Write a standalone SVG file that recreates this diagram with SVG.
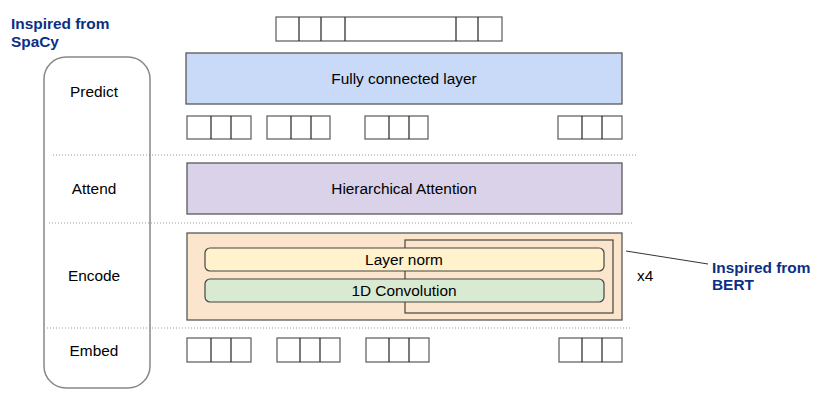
<svg xmlns="http://www.w3.org/2000/svg" width="838" height="410" viewBox="0 0 838 410">
<style>
text{font-family:"Liberation Sans",Arial,sans-serif;font-size:15.4px;fill:#000}
.c{text-anchor:middle}
.note{font-weight:bold;fill:#0b2f85}
.box{stroke:#595959;stroke-width:1.3}
.tok{fill:#fff;stroke:#666;stroke-width:1.3}
.div{stroke:#222;stroke-width:1.2}
.dot{stroke:#999;stroke-width:1;stroke-dasharray:1 2;fill:none}
</style>
<g id="notes">
<text class="note" x="11" y="29">Inspired from</text>
<text class="note" x="11" y="47">SpaCy</text>
<text class="note" x="712" y="273">Inspired from</text>
<text class="note" x="712" y="290">BERT</text>
</g>
<g id="stages">
<rect x="44" y="57" width="106" height="331" rx="22" fill="#fff" stroke="#888" stroke-width="1.5"/>
<text class="c" x="94" y="97">Predict</text>
<text class="c" x="94" y="194">Attend</text>
<text class="c" x="94" y="281">Encode</text>
<text class="c" x="94" y="356">Embed</text>
</g>
<g id="separators">
<line class="dot" x1="53" y1="155" x2="637" y2="155"/>
<line class="dot" x1="49" y1="223" x2="634" y2="223"/>
<line class="dot" x1="47" y1="328" x2="632" y2="328"/>
</g>
<g id="output-tokens">
<rect class="tok" x="276" y="17" width="226" height="24"/>
<path class="div" d="M299 17V41M321 17V41M345 17V41M456 17V41M478 17V41"/>
</g>
<g id="fc">
<rect class="box" x="186" y="53" width="436" height="51" fill="#c9daf8"/>
<text class="c" x="404" y="84">Fully connected layer</text>
</g>
<g id="predict-tokens">
<rect class="tok" x="187" y="116" width="64" height="23"/>
<rect class="tok" x="267" y="116" width="63" height="23"/>
<rect class="tok" x="365" y="116" width="63" height="23"/>
<rect class="tok" x="558" y="116" width="64" height="23"/>
<path class="div" d="M211 116V139M231 116V139M291 116V139M311 116V139M389 116V139M409 116V139M582 116V139M602 116V139"/>
</g>
<g id="attention">
<rect class="box" x="187" y="163" width="435" height="51" fill="#d9d2e9"/>
<text class="c" x="404" y="194">Hierarchical Attention</text>
</g>
<g id="encoder">
<rect class="box" x="187" y="233" width="435" height="87" fill="#fce5cd"/>
<rect x="405" y="240" width="208" height="73" fill="none" stroke="#444" stroke-width="1.2"/>
</g>
<g id="layer-norm">
<rect x="205" y="248" width="399" height="23" rx="5" fill="#fff2cc" stroke="#444" stroke-width="1.2"/>
<text class="c" x="404" y="265">Layer norm</text>
</g>
<g id="conv">
<rect x="205" y="279" width="399" height="23" rx="5" fill="#d9ead3" stroke="#444" stroke-width="1.2"/>
<text class="c" x="404" y="296">1D Convolution</text>
</g>
<g id="repeat">
<text x="637" y="281">x4</text>
</g>
<g id="connectors">
<line x1="626" y1="251" x2="708" y2="264" stroke="#333" stroke-width="1"/>
</g>
<g id="embed-tokens">
<rect class="tok" x="187" y="338" width="64" height="24"/>
<rect class="tok" x="277" y="338" width="63" height="24"/>
<rect class="tok" x="366" y="338" width="63" height="24"/>
<rect class="tok" x="559" y="338" width="63" height="24"/>
<path class="div" d="M211 338V362M231 338V362M300 338V362M320 338V362M389 338V362M409 338V362M582 338V362M602 338V362"/>
</g>
</svg>
